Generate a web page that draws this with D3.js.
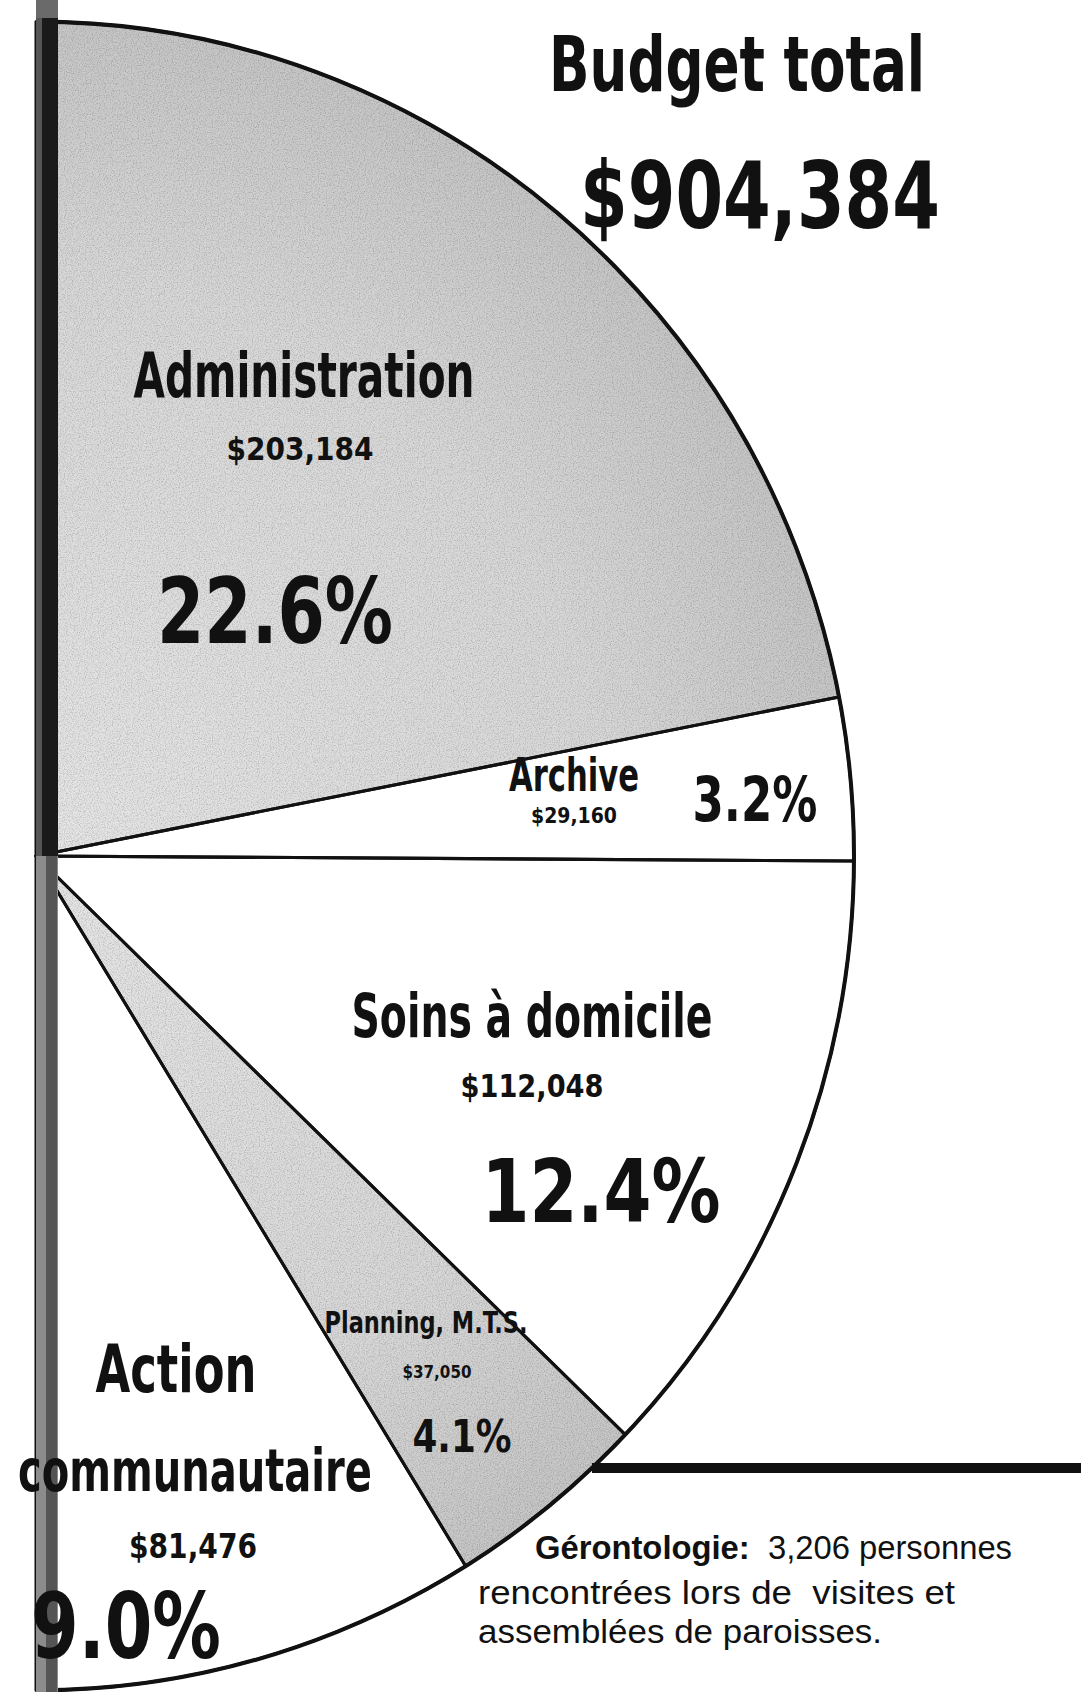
<!DOCTYPE html>
<html>
<head>
<meta charset="utf-8">
<script src="https://cdn.jsdelivr.net/npm/d3@7"></script>
<style>
	body { margin: 0; background: #ffffff; }
	svg { display: block; }
</style>
</head>
<body>
<div id="wrapper"></div>
<script>
const categories = ["Administration", "Archive", "Soins à domicile", "Planning, M.T.S.", "Action communautaire"];
const amounts = [203184, 29160, 112048, 37050, 81476];
const percentLabels = ["22.6%", "3.2%", "12.4%", "4.1%", "9.0%"];
const shaded = [true, false, false, true, false];
const budgetTotal = 904384;
const titleText = "Budget total";
const noteBold = "Gérontologie:";
const noteLines = ["3,206 personnes", "rencontrées lors de  visites et", "assemblées de paroisses."];

// where each label sits (x = centre, y = baseline, w = rendered width)
const labelLayout = [
	{ name: [{ x: 304, y: 397, size: 62, w: 341 }], amount: { x: 300, y: 460, size: 32, w: 147 }, pct: { x: 275, y: 643, size: 90, w: 236 } },
	{ name: [{ x: 574, y: 791, size: 46, w: 130 }], amount: { x: 574, y: 823, size: 22, w: 86 }, pct: { x: 755, y: 821, size: 62, w: 125 } },
	{ name: [{ x: 532, y: 1037, size: 60, w: 361 }], amount: { x: 532, y: 1097, size: 32, w: 143 }, pct: { x: 601, y: 1222, size: 88, w: 239 } },
	{ name: [{ x: 426, y: 1333, size: 30, w: 203 }], amount: { x: 437, y: 1378, size: 17, w: 69 }, pct: { x: 462, y: 1452, size: 44, w: 99 } },
	{ name: [{ x: 176, y: 1392, size: 66, w: 161 }, { x: 195, y: 1491, size: 58, w: 354 }], amount: { x: 193, y: 1558, size: 34, w: 128 }, pct: { x: 126, y: 1658, size: 90, w: 190 } }
];

function drawChart() {
	let dimensions = {
		width: 1081,
		height: 1692,
		cx: 36,
		cy: 856,
		radius: 818,
		squash: 1.02
	};

	const narrowFont = "'Liberation Sans Narrow', 'DejaVu Sans Condensed', 'Liberation Sans', sans-serif";
	const wideFont = "'DejaVu Sans', 'Liberation Sans', sans-serif";

	const svg = d3.select("#wrapper").append("svg")
		.attr("width", dimensions.width)
		.attr("height", dimensions.height);

	const defs = svg.append("defs");
	const grad = defs.append("radialGradient")
		.attr("id", "shade")
		.attr("gradientUnits", "userSpaceOnUse")
		.attr("cx", 0).attr("cy", 0).attr("r", dimensions.radius);
	grad.append("stop").attr("offset", "0%").attr("stop-color", "#e6e6e6");
	grad.append("stop").attr("offset", "70%").attr("stop-color", "#d8d8d8");
	grad.append("stop").attr("offset", "100%").attr("stop-color", "#c6c6c6");

	// newsprint grain on the grey slices
	const grain = defs.append("filter").attr("id", "grain");
	grain.append("feTurbulence")
		.attr("type", "fractalNoise")
		.attr("baseFrequency", 0.85)
		.attr("numOctaves", 2)
		.attr("seed", 3)
		.attr("result", "noise");
	grain.append("feColorMatrix")
		.attr("in", "noise")
		.attr("type", "matrix")
		.attr("values", "0 0 0 0 0  0 0 0 0 0  0 0 0 0 0  0.9 0 0 0 -0.38")
		.attr("result", "specks");
	grain.append("feComposite")
		.attr("in", "specks").attr("in2", "SourceGraphic")
		.attr("operator", "in")
		.attr("result", "clipped");
	const merge = grain.append("feMerge");
	merge.append("feMergeNode").attr("in", "SourceGraphic");
	merge.append("feMergeNode").attr("in", "clipped");

	// the visible half of the pie
	const pie = d3.pie().sort(null).startAngle(0).endAngle(Math.PI);
	const arcs = pie(amounts);
	const arcGenerator = d3.arc().innerRadius(0).outerRadius(dimensions.radius);

	const pieGroup = svg.append("g")
		.attr("transform", `translate(${dimensions.cx},${dimensions.cy}) scale(1,${dimensions.squash})`);

	pieGroup.selectAll("path.slice")
		.data(arcs)
		.join("path")
		.attr("class", "slice")
		.attr("d", arcGenerator)
		.attr("fill", (d, i) => shaded[i] ? "url(#shade)" : "#ffffff")
		.attr("filter", (d, i) => shaded[i] ? "url(#grain)" : null);

	pieGroup.selectAll("path.edge")
		.data(arcs)
		.join("path")
		.attr("class", "edge")
		.attr("d", arcGenerator)
		.attr("fill", "none")
		.attr("stroke", "#111")
		.attr("stroke-width", 3)
		.attr("stroke-linejoin", "round");

	// heavier outer rim
	const rim = d3.arc().innerRadius(dimensions.radius).outerRadius(dimensions.radius);
	pieGroup.append("path")
		.attr("d", rim({ startAngle: 0, endAngle: Math.PI }))
		.attr("fill", "none")
		.attr("stroke", "#111")
		.attr("stroke-width", 4);

	// thick rule on the lower right, starting where it meets the circle
	const ruleY = 1468;
	const dy = (ruleY - dimensions.cy) / dimensions.squash;
	const ruleX = dimensions.cx + Math.sqrt(dimensions.radius * dimensions.radius - dy * dy);
	svg.append("line")
		.attr("x1", ruleX).attr("x2", dimensions.width)
		.attr("y1", ruleY).attr("y2", ruleY)
		.attr("stroke", "#111")
		.attr("stroke-width", 10);

	// the paste-up bar down the left edge
	svg.append("rect").attr("x", 36).attr("y", 0).attr("width", 22).attr("height", 20).attr("fill", "#6a6a6a");
	svg.append("rect").attr("x", 36).attr("y", 18).attr("width", 22).attr("height", dimensions.cy - 18).attr("fill", "#1a1a1a");
	svg.append("rect").attr("x", 36).attr("y", 18).attr("width", 6).attr("height", dimensions.cy - 18).attr("fill", "#555");
	svg.append("rect").attr("x", 36).attr("y", dimensions.cy).attr("width", 22).attr("height", dimensions.height - dimensions.cy).attr("fill", "#8c8c8c");
	svg.append("rect").attr("x", 46).attr("y", dimensions.cy).attr("width", 11).attr("height", dimensions.height - dimensions.cy).attr("fill", "#555");

	function addText(spec, text, family, weight) {
		return svg.append("text")
			.attr("x", spec.x)
			.attr("y", spec.y)
			.attr("text-anchor", "middle")
			.attr("font-family", family)
			.attr("font-weight", weight)
			.attr("font-size", spec.size)
			.attr("textLength", spec.w)
			.attr("lengthAdjust", "spacingAndGlyphs")
			.attr("fill", "#111")
			.text(text);
	}

	const money = d3.format("$,");

	labelLayout.forEach((lay, i) => {
		const nameParts = lay.name.length > 1
			? [categories[i].slice(0, categories[i].indexOf(" ")), categories[i].slice(categories[i].indexOf(" ") + 1)]
			: [categories[i]];
		lay.name.forEach((spec, j) => addText(spec, nameParts[j], narrowFont, "bold"));
		addText(lay.amount, money(amounts[i]), wideFont, "bold");
		addText(lay.pct, percentLabels[i], narrowFont, "bold");
	});

	// title
	addText({ x: 737, y: 91, size: 77, w: 376 }, titleText, narrowFont, "bold");
	addText({ x: 760, y: 228, size: 92, w: 360 }, money(budgetTotal), narrowFont, "bold");

	// note
	const note = svg.append("g")
		.attr("font-family", "'Liberation Sans', Arial, sans-serif")
		.attr("font-size", 34)
		.attr("fill", "#111");
	const first = note.append("text").attr("x", 535).attr("y", 1559)
		.attr("textLength", 477).attr("lengthAdjust", "spacingAndGlyphs");
	first.append("tspan").attr("font-weight", "bold").text(noteBold);
	first.append("tspan").text("\u00a0 " + noteLines[0]);
	note.append("text").attr("x", 478).attr("y", 1604)
		.attr("textLength", 477).attr("lengthAdjust", "spacingAndGlyphs")
		.style("white-space", "pre").text(noteLines[1]);
	note.append("text").attr("x", 478).attr("y", 1643)
		.attr("textLength", 404).attr("lengthAdjust", "spacingAndGlyphs")
		.text(noteLines[2]);
}

drawChart();
</script>
</body>
</html>
